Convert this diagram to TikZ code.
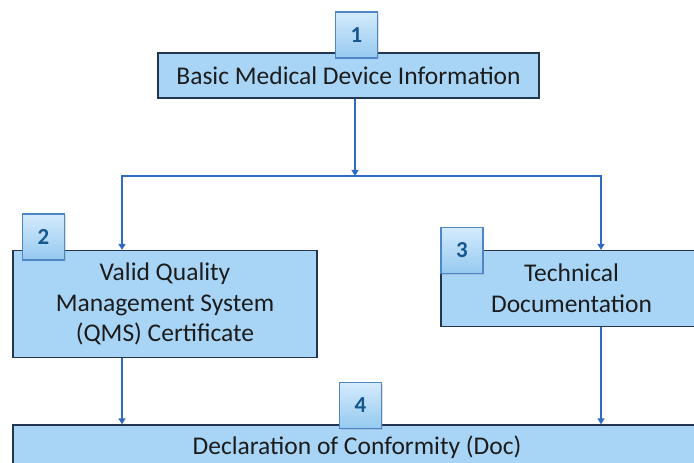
\documentclass[tikz,border=0pt]{standalone}
\usepackage{fontspec}
\setmainfont{Carlito}
\usetikzlibrary{arrows.meta,shadows}
\definecolor{boxfill}{HTML}{A8D5F6}
\definecolor{boxline}{HTML}{22364F}
\definecolor{arrblue}{HTML}{2F6BC2}
\definecolor{tagtop}{HTML}{D4EBFC}
\definecolor{tagbot}{HTML}{95C9F0}
\definecolor{tagline}{HTML}{4F86C6}
\definecolor{tagnum}{HTML}{17578F}
\definecolor{txt}{HTML}{1C1C1C}
\begin{document}
\begin{tikzpicture}[x=1bp,y=-1bp,
  box/.style={draw=boxline,fill=boxfill,line width=1.3bp,inner sep=0pt,align=center,text=txt,font=\fontsize{25.6}{31}\selectfont},
  tag/.style={draw=tagline,top color=tagtop,bottom color=tagbot,line width=1.1bp,minimum width=42bp,minimum height=46bp,inner sep=0pt,text=tagnum,font=\fontsize{23}{23}\selectfont\bfseries,drop shadow={opacity=.25,shadow xshift=1bp,shadow yshift=-1.5bp}},
  arr/.style={draw=arrblue,line width=1.3bp,-{Triangle[length=6bp,width=7bp]}}]
\clip (0,0) rectangle (694,463);

\node[box,minimum width=381bp,minimum height=45bp] (b1) at (348.5,75.5) {Basic Medical Device Information};
\node[box,minimum width=304bp,minimum height=107bp] (b2) at (165,304) {Valid Quality\\Management System\\(QMS) Certificate};
\node[box,minimum width=261bp,minimum height=76bp] (b3) at (571.5,288.5) {Technical\\Documentation};
\node[box,minimum width=688bp,minimum height=44bp] (b4) at (357,447) {Declaration of Conformity (Doc)};

\coordinate (hub) at (355,176);
\coordinate (lft) at (122,176);
\coordinate (rgt) at (601,176);

\draw[arr] (b1.south -| hub) -- (hub);
\draw[arr] (hub) -- (lft) -- (lft |- b2.north);
\draw[arr] (hub) -- (rgt) -- (rgt |- b3.north);
\draw[arr] (lft |- b2.south) -- (lft |- b4.north);
\draw[arr] (rgt |- b3.south) -- (rgt |- b4.north);

\node[tag] (k1) at (356.5,35) {1};
\node[tag] (k2) at (43.5,237) {2};
\node[tag] (k3) at (462,250.5) {3};
\node[tag] (k4) at (360.5,405.5) {4};
\end{tikzpicture}
\end{document}
